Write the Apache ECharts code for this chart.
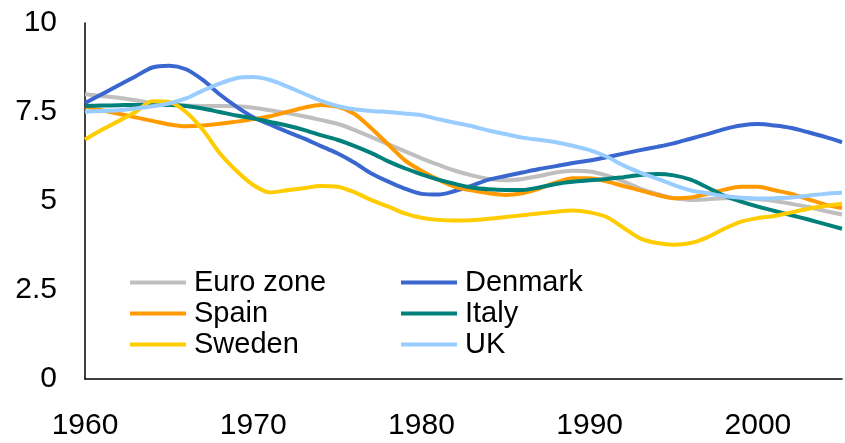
<!DOCTYPE html>
<html>
<head>
<meta charset="utf-8">
<script src="https://cdn.jsdelivr.net/npm/echarts@6/dist/echarts.min.js"></script>
<style>html,body{margin:0;padding:0;background:#fff}#c{width:845px;height:443px}</style>
</head>
<body>
<div id="c"></div>
<script>
const years = [];
for (let y = 1960; y <= 2005; y++) years.push(y);
const yTicks = [0, 2.5, 5, 7.5, 10];
const xTicks = [1960, 1970, 1980, 1990, 2000];

const euroZone = [8.0,7.95,7.9,7.83,7.75,7.7,7.68,7.67,7.67,7.66,7.62,7.55,7.47,7.38,7.28,7.17,7.0,6.8,6.6,6.4,6.2,6.02,5.85,5.72,5.62,5.58,5.62,5.7,5.8,5.85,5.83,5.72,5.55,5.35,5.2,5.08,5.03,5.05,5.08,5.08,5.05,5.0,4.92,4.83,4.72,4.62];
const denmark = [7.75,8.0,8.25,8.5,8.75,8.8,8.7,8.4,8.0,7.65,7.35,7.15,6.95,6.76,6.55,6.34,6.08,5.78,5.55,5.35,5.2,5.18,5.28,5.43,5.6,5.7,5.8,5.9,5.98,6.07,6.14,6.23,6.33,6.43,6.52,6.62,6.75,6.88,7.02,7.12,7.16,7.12,7.05,6.93,6.8,6.65];
const spain = [7.65,7.55,7.45,7.35,7.25,7.15,7.1,7.12,7.17,7.23,7.3,7.38,7.5,7.62,7.7,7.65,7.45,7.05,6.6,6.15,5.85,5.6,5.4,5.3,5.22,5.17,5.22,5.35,5.52,5.64,5.64,5.55,5.42,5.3,5.17,5.08,5.1,5.2,5.32,5.4,5.4,5.3,5.2,5.05,4.9,4.8];
const italy = [7.67,7.68,7.69,7.7,7.7,7.7,7.67,7.6,7.5,7.4,7.32,7.22,7.12,7.0,6.85,6.72,6.55,6.35,6.12,5.92,5.75,5.6,5.48,5.38,5.33,5.31,5.31,5.38,5.48,5.54,5.58,5.62,5.67,5.73,5.76,5.72,5.6,5.38,5.15,4.98,4.84,4.72,4.6,4.48,4.35,4.22];
const sweden = [6.73,7.0,7.25,7.5,7.8,7.78,7.5,7.0,6.35,5.85,5.45,5.24,5.3,5.36,5.42,5.4,5.25,5.03,4.85,4.65,4.53,4.47,4.45,4.46,4.5,4.55,4.6,4.65,4.7,4.73,4.68,4.55,4.25,3.95,3.82,3.77,3.82,3.98,4.22,4.42,4.52,4.58,4.68,4.78,4.86,4.92];
const uk = [7.51,7.53,7.55,7.6,7.66,7.74,7.88,8.1,8.3,8.45,8.48,8.4,8.22,8.02,7.82,7.67,7.58,7.53,7.5,7.46,7.41,7.3,7.2,7.1,6.98,6.88,6.78,6.72,6.65,6.55,6.43,6.25,6.0,5.8,5.63,5.45,5.3,5.22,5.14,5.09,5.07,5.08,5.1,5.15,5.2,5.23];

const seriesDefs = [
  {name: 'Euro zone', data: euroZone, color: '#BFBFBF'},
  {name: 'Denmark', data: denmark, color: '#3A66CF'},
  {name: 'Spain', data: spain, color: '#FF9A00'},
  {name: 'Italy', data: italy, color: '#00807A'},
  {name: 'Sweden', data: sweden, color: '#FFCC00'},
  {name: 'UK', data: uk, color: '#99CCFF'}
];

const font = '"Liberation Sans", Arial, sans-serif';
const legendCommon = {
  orient: 'vertical',
  icon: 'rect',
  itemWidth: 56,
  itemHeight: 4,
  itemGap: 2,
  top: 268,
  padding: 0,
  textStyle: {fontFamily: font, fontSize: 29, color: '#000', lineHeight: 29, padding: [0, 0, 0, 3]}
};

const chart = echarts.init(document.getElementById('c'), null, {renderer: 'canvas'});
chart.setOption({
  animation: false,
  backgroundColor: '#fff',
  grid: {left: 85, right: 3, top: 23, bottom: 64, containLabel: false},
  legend: [
    Object.assign({}, legendCommon, {left: 130, data: ['Euro zone', 'Spain', 'Sweden']}),
    Object.assign({}, legendCommon, {left: 401, data: ['Denmark', 'Italy', 'UK']})
  ],
  xAxis: {
    type: 'value', min: 1960, max: 2005, interval: 10,
    axisLine: {show: true, onZero: false, lineStyle: {color: '#000', width: 1.5}},
    axisTick: {show: false},
    splitLine: {show: false},
    axisLabel: {
      margin: 32, fontFamily: font, fontSize: 30, color: '#000',
      formatter: v => xTicks.includes(v) ? String(v) : ''
    }
  },
  yAxis: {
    type: 'value', min: 0, max: 10, interval: 2.5,
    axisLine: {show: true, lineStyle: {color: '#000', width: 1.5}},
    axisTick: {show: false},
    splitLine: {show: false},
    axisLabel: {
      margin: 28, fontFamily: font, fontSize: 30, color: '#000',
      formatter: v => yTicks.includes(v) ? String(v) : ''
    }
  },
  series: seriesDefs.map(s => ({
    name: s.name,
    type: 'line',
    smooth: 0.3,
    showSymbol: false,
    color: s.color,
    lineStyle: {color: s.color, width: 4},
    data: s.data.map((v, i) => [years[i], v])
  }))
});
</script>
</body>
</html>
